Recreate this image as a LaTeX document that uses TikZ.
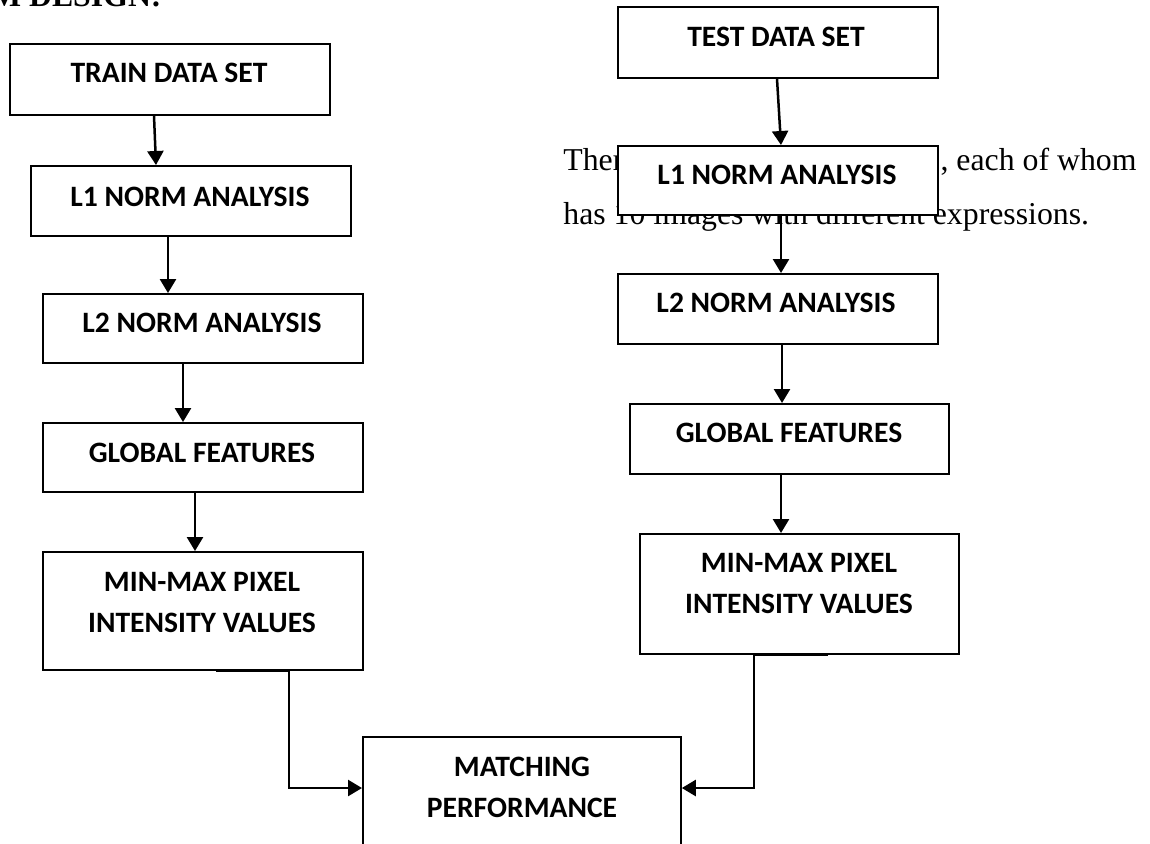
\documentclass[tikz,border=0pt]{standalone}
\usepackage{fontspec}
\setmainfont{Liberation Serif}
\newfontfamily\boxfont{Carlito}
\usetikzlibrary{arrows.meta,calc}

\begin{document}
\begin{tikzpicture}[x=0.5pt,y=-0.5pt,
  stage/.style={draw=black, line width=0.9pt, fill=white, inner sep=0pt,
                anchor=north west, minimum width=160pt},
  caption/.style={font=\boxfont\bfseries\fontsize{14.8}{20.5}\selectfont,
                  align=center, inner sep=0pt},
  flow/.style={line width=1.25pt, -{Triangle[width=8pt,length=7pt]}},
  prose/.style={font=\fontsize{15.9}{27}\selectfont, inner sep=0pt, anchor=base west},
]
\useasboundingbox (0,0) rectangle (1150,843);
\clip (0,0) rectangle (1150,843);
\fill[white] (0,0) rectangle (1150,843);

% heading, partly above the page edge
\node[font=\bfseries\fontsize{15.9}{19}\selectfont, inner sep=0pt, anchor=base east]
  (head) at (162,6) {M DESIGN:};

% body text lying under the right column
\node[prose] (p1) at (563,170) {Ther};
\node[prose, anchor=base east] (p2) at (1137,170) {, each of whom};
\node[prose] (p3) at (563,224) {has 10 images with different expressions.};

% left column
\node[stage, minimum height=35.5pt] (train) at (9,43) {};
\node[stage, minimum height=35pt]   (l1a)   at (30,165) {};
\node[stage, minimum height=34.5pt] (l2a)   at (42,293) {};
\node[stage, minimum height=34.5pt] (gfa)   at (42,422) {};
\node[stage, minimum height=59pt]   (mma)   at (42,551) {};

% right column
\node[stage, minimum height=35.5pt] (test) at (617,6) {};
\node[stage, minimum height=34.5pt] (l1b)  at (617,145) {};
\node[stage, minimum height=35pt]   (l2b)  at (617,273) {};
\node[stage, minimum height=35pt, minimum width=159.5pt] (gfb) at (629,403) {};
\node[stage, minimum height=60pt, minimum width=159.5pt] (mmb) at (639,533) {};

% result
\node[stage, minimum height=75pt, minimum width=159pt] (match) at (362,736) {};

% box captions
\node[caption] (trainT) at (169,73)  {TRAIN DATA SET};
\node[caption] (l1aT)   at (190,197) {L1 NORM ANALYSIS};
\node[caption] (l2aT)   at (202,323) {L2 NORM ANALYSIS};
\node[caption] (gfaT)   at (202,453) {GLOBAL FEATURES};
\node[caption] (mmaT)   at (202,602.5) {MIN-MAX PIXEL\\INTENSITY VALUES};
\node[caption] (testT)  at (776,37)  {TEST DATA SET};
\node[caption] (l1bT)   at (777,175) {L1 NORM ANALYSIS};
\node[caption] (l2bT)   at (776,303) {L2 NORM ANALYSIS};
\node[caption] (gfbT)   at (789,433) {GLOBAL FEATURES};
\node[caption] (mmbT)   at (799,583.5) {MIN-MAX PIXEL\\INTENSITY VALUES};
\node[caption] (matchT) at (522,787) {MATCHING\\PERFORMANCE};

% left flow
\draw[flow] ($(train.south west)+(145,0)$) -- ($(l1a.north west)+(126,0)$);
\draw[flow] ($(l1a.south west)+(138,0)$) coordinate (a2) -- (a2 |- l2a.north);
\draw[flow] ($(l2a.south west)+(141,0)$) coordinate (a3) -- (a3 |- gfa.north);
\draw[flow] ($(gfa.south west)+(153,0)$) coordinate (a4) -- (a4 |- mma.north);

% right flow
\draw[flow] ($(test.south west)+(160,0)$) -- ($(l1b.north west)+(164,0)$);
\draw[flow] ($(l1b.south west)+(164,0)$) coordinate (b2) -- (b2 |- l2b.north);
\draw[flow] ($(l2b.south west)+(165,0)$) coordinate (b3) -- (b3 |- gfb.north);
\draw[flow] ($(gfb.south west)+(152,0)$) coordinate (b4) -- (b4 |- mmb.north);

% both columns join at the result box
\coordinate (inL) at ($(match.north west)+(0,52)$);
\coordinate (inR) at ($(match.north east)+(0,52)$);
\draw[flow] ($(mma.south west)+(174,0)$) -- ($(mma.south west)+(247,0)$) coordinate (c1) |- (inL);
\draw[flow] ($(mmb.south west)+(189,0)$) -- ($(mmb.south west)+(115,0)$) coordinate (c2) |- (inR);
\end{tikzpicture}
\end{document}
